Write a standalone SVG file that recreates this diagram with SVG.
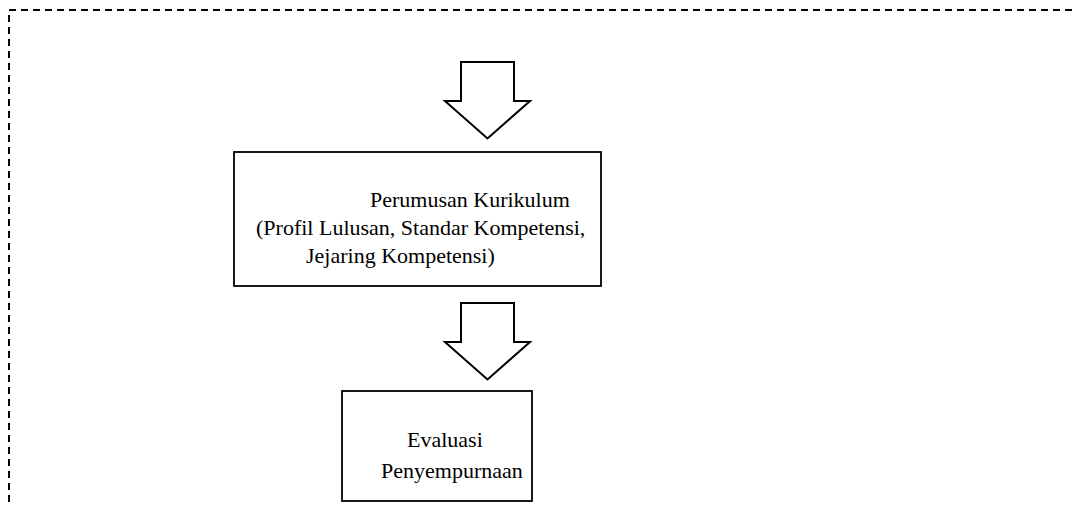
<svg xmlns="http://www.w3.org/2000/svg" width="1072" height="506" viewBox="0 0 1072 506">
<style>
.frame{fill:none;stroke:#000;stroke-width:2;stroke-dasharray:7 5}
.box{fill:#fff;stroke:#000;stroke-width:1.8}
.arr{fill:#fff;stroke:#000;stroke-width:2;stroke-linejoin:miter}
.t{font-family:"Liberation Serif","Times New Roman",serif;font-size:22px;fill:#000}
</style>
<rect width="1072" height="506" fill="#fff"/>
<g id="frame">
<path class="frame" d="M1072,10 H9 V506"/>
</g>
<g id="connectors">
<path class="arr" d="M461,62 H514 V101 H530 L487.5,138.5 L445,101 H461 Z"/>
<path class="arr" d="M461,303 H514 V342 H530 L487.5,379.5 L445,342 H461 Z"/>
</g>
<g id="node-perumusan">
<rect class="box" x="234" y="152" width="367" height="134"/>
<text class="t" x="370" y="207">Perumusan Kurikulum</text>
<text class="t" x="256" y="235">(Profil Lulusan, Standar Kompetensi,</text>
<text class="t" x="306" y="263">Jejaring Kompetensi)</text>
</g>
<g id="node-evaluasi">
<rect class="box" x="342" y="391" width="190" height="110"/>
<text class="t" x="407" y="447">Evaluasi</text>
<text class="t" x="381" y="478">Penyempurnaan</text>
</g>
</svg>
